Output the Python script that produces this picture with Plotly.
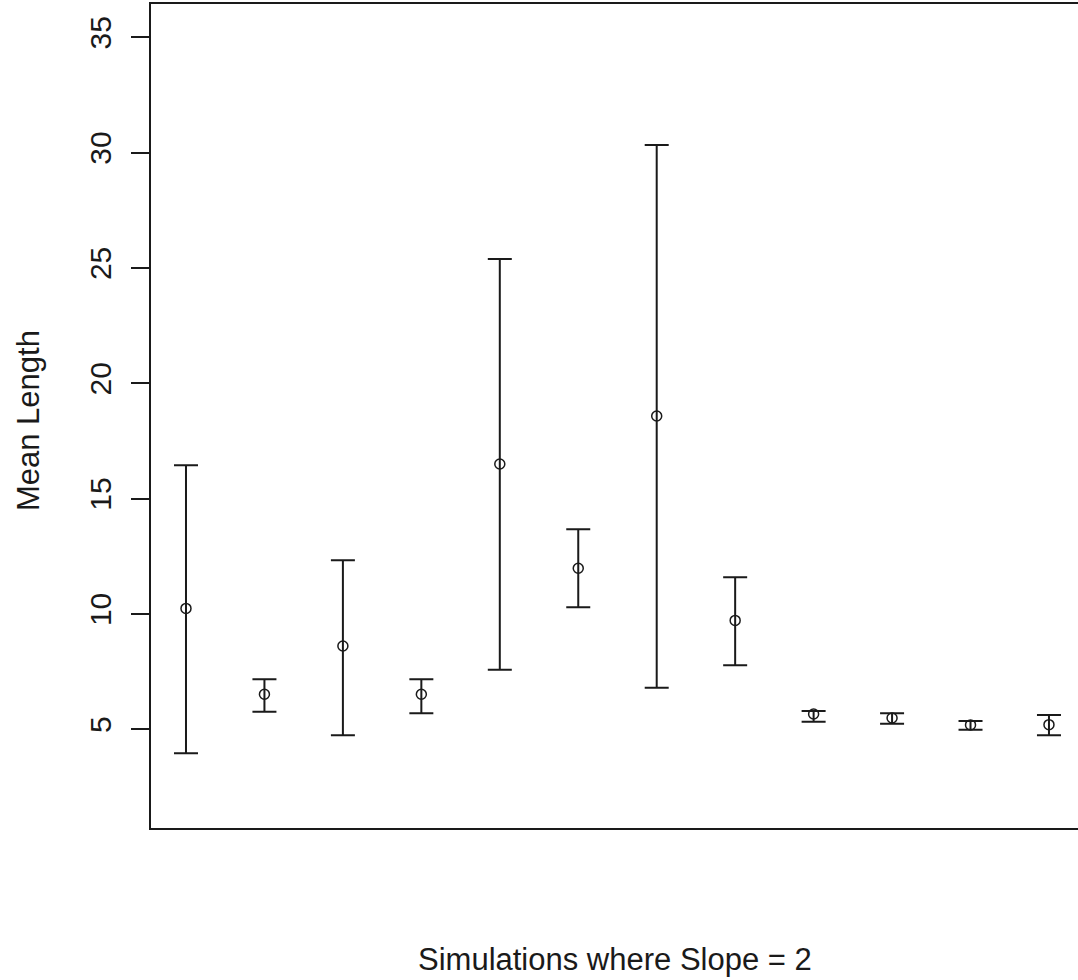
import plotly.graph_objects as go

# Twelve simulation runs: mean length with lower / upper interval limits
sim_index = list(range(1, 13))
mean_length = [10.24, 6.52, 8.61, 6.52, 16.50, 11.98, 18.58, 9.72, 5.66, 5.49, 5.19, 5.20]
lower_limit = [3.96, 5.76, 4.74, 5.69, 7.58, 10.29, 6.80, 7.77, 5.33, 5.24, 4.98, 4.74]
upper_limit = [16.44, 7.17, 12.33, 7.17, 25.39, 13.67, 30.33, 11.59, 5.79, 5.69, 5.36, 5.62]
y_ticks = [5, 10, 15, 20, 25, 30, 35]

err_plus = [u - m for u, m in zip(upper_limit, mean_length)]
err_minus = [m - l for m, l in zip(mean_length, lower_limit)]

FONT = "Liberation Sans, Arial, sans-serif"
INK = "#1a1a1a"

fig = go.Figure(
    go.Scatter(
        x=sim_index,
        y=mean_length,
        mode="markers",
        marker=dict(symbol="circle-open", size=10, color=INK, line=dict(width=1.5, color=INK)),
        error_y=dict(
            type="data",
            symmetric=False,
            array=err_plus,
            arrayminus=err_minus,
            color=INK,
            thickness=2,
            width=12,
        ),
        showlegend=False,
        hoverinfo="skip",
    )
)

fig.update_layout(
    width=1078,
    height=980,
    margin=dict(l=151, r=0, t=4, b=152),
    paper_bgcolor="white",
    plot_bgcolor="white",
    font=dict(family=FONT, color=INK, size=30),
    xaxis=dict(
        range=[0.554, 12.37],
        showgrid=False,
        zeroline=False,
        showticklabels=False,
        ticks="",
        showline=True,
        linecolor=INK,
        linewidth=2,
        mirror=True,
    ),
    yaxis=dict(
        range=[0.72, 36.44],
        tickvals=y_ticks,
        ticktext=[str(v) for v in y_ticks],
        tickangle=-90,
        ticks="outside",
        ticklen=18,
        tickwidth=2,
        tickcolor=INK,
        ticklabelstandoff=8,
        tickfont=dict(size=30, family=FONT, color=INK),
        showgrid=False,
        zeroline=False,
        showline=True,
        linecolor=INK,
        linewidth=2,
        mirror=False,
    ),
    annotations=[
        dict(
            text="Simulations where Slope = 2",
            xref="paper", yref="paper",
            x=0.5, y=-0.16,
            xanchor="center", yanchor="middle",
            showarrow=False,
            font=dict(size=31, family=FONT, color=INK),
        ),
        dict(
            text="Mean Length",
            xref="paper", yref="paper",
            x=-0.1327, y=0.495,
            xanchor="center", yanchor="middle",
            textangle=-90,
            showarrow=False,
            font=dict(size=31, family=FONT, color=INK),
        ),
    ],
)

fig.write_html("out.html")
